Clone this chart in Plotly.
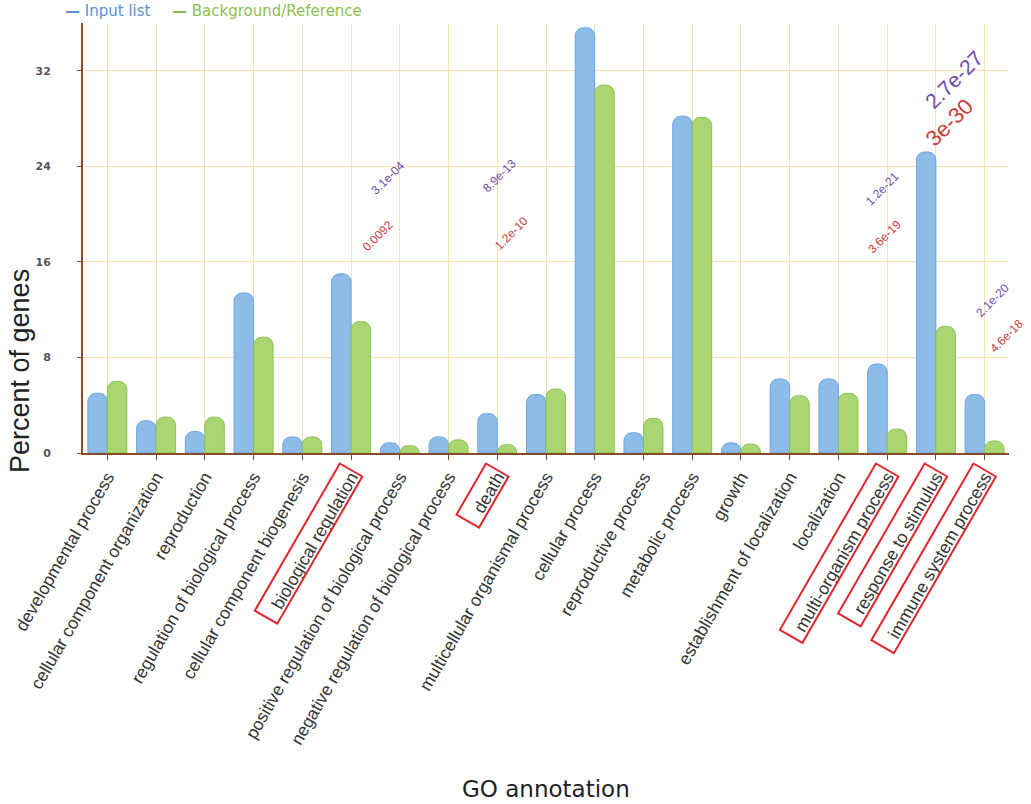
import math
import plotly.graph_objects as go

# ---------------- data ----------------
categories = [
    "developmental process", "cellular component organization", "reproduction",
    "regulation of biological process", "cellular component biogenesis",
    "biological regulation", "positive regulation of biological process",
    "negative regulation of biological process", "death",
    "multicellular organismal process", "cellular process", "reproductive process",
    "metabolic process", "growth", "establishment of localization", "localization",
    "multi-organism process", "response to stimulus", "immune system process",
]
input_list = [5.0, 2.7, 1.8, 13.4, 1.35, 15.0, 0.85, 1.35, 3.3, 4.9,
              35.6, 1.7, 28.2, 0.85, 6.2, 6.2, 7.45, 25.2, 4.9]
background = [6.0, 3.0, 3.0, 9.7, 1.35, 11.0, 0.6, 1.1, 0.7, 5.35,
              30.8, 2.9, 28.1, 0.75, 4.8, 5.0, 2.0, 10.6, 1.0]

pvalue_labels = ["3.1e-04", "0.0092", "8.9e-13", "1.2e-10", "1.2e-21",
                 "3.6e-19", "2.7e-27", "3e-30", "2.1e-20", "4.6e-18"]
pvalue_kind = ["a", "b", "a", "b", "a", "b", "a", "b", "a", "b"]
highlighted = ["biological regulation", "death", "multi-organism process",
               "response to stimulus", "immune system process"]

# ---------------- layout constants ----------------
W, H = 1031, 804
PL, PT, PR, PB = 83, 23, 1009, 453   # plot area in window pixels
L, T, R, B = PL, PT, W - PR, H - PB
PW, PH = PR - PL, PB - PT
N = len(categories)

pv_x = [5.75, 5.54, 8.04, 8.3, 15.9, 15.94, 17.37, 17.27, 18.17, 18.45]
pv_y = [23.05, 18.2, 23.2, 18.4, 22.1, 18.1, 31.3, 27.7, 12.8, 9.8]
pv_size = [12, 12, 12, 12, 12, 12, 21, 22, 12, 12]
box_len = [170, 59, 192, 173, 204]

BLUE, BLUE_LINE = "#8dbce9", "#6ea5dd"
GREEN, GREEN_LINE = "#a9d673", "#8cc152"
PURPLE, RED = "#6f4ea8", "#c8403a"
AXIS = "#8a4b2a"
GRID = "#f7e2ad"


def to_paper(px, py):
    return (px - PL) / PW, (PB - py) / PH


fig = go.Figure()
fig.add_bar(x=categories, y=input_list, name="Input list",
            marker=dict(color=BLUE, line=dict(color=BLUE_LINE, width=1), cornerradius=8))
fig.add_bar(x=categories, y=background, name="Background/Reference",
            marker=dict(color=GREEN, line=dict(color=GREEN_LINE, width=1), cornerradius=8))

annotations = []
for txt, kind, x, y, s in zip(pvalue_labels, pvalue_kind, pv_x, pv_y, pv_size):
    annotations.append(dict(x=x, y=y, xref="x", yref="y", text=txt, showarrow=False,
                            xanchor="center", yanchor="middle", textangle=-45,
                            font=dict(size=s, color=PURPLE if kind == "a" else RED,
                                      family="Liberation Sans, Arial")))

shapes = []
ux, uy = -0.5, math.sqrt(3) / 2      # along label, going down-left
nx, ny = math.sqrt(3) / 2, 0.5       # perpendicular
hw = 13
for name, ln in zip(highlighted, box_len):
    i = categories.index(name)
    tx = PL + (i + 0.5) * PW / N
    top = (tx, PB + 17)
    bot = (top[0] + ux * ln, top[1] + uy * ln)
    pts = [(top[0] - nx * hw, top[1] - ny * hw), (top[0] + nx * hw, top[1] + ny * hw),
           (bot[0] + nx * hw, bot[1] + ny * hw), (bot[0] - nx * hw, bot[1] - ny * hw)]
    pp = [to_paper(*p) for p in pts]
    path = "M " + " L ".join(f"{a:.5f},{b:.5f}" for a, b in pp) + " Z"
    shapes.append(dict(type="path", path=path, xref="paper", yref="paper",
                       line=dict(color="#e0262b", width=2), fillcolor="rgba(0,0,0,0)"))

# legend as coloured text
lx, ly = to_paper(63, 11)
annotations.append(dict(x=lx, y=ly, xref="paper", yref="paper",
                        xanchor="left", yanchor="middle", showarrow=False,
                        text="<b>\u2014</b> Input list",
                        font=dict(size=15, color="#5b8fd2", family="DejaVu Sans, Verdana")))
lx, ly = to_paper(170, 11)
annotations.append(dict(x=lx, y=ly, xref="paper", yref="paper",
                        xanchor="left", yanchor="middle", showarrow=False,
                        text="<b>\u2014</b> Background/Reference",
                        font=dict(size=15, color="#8cc152", family="DejaVu Sans, Verdana")))
# axis titles
ax_, ay_ = to_paper(20, 371)
annotations.append(dict(x=ax_, y=ay_, xref="paper", yref="paper",
                        xanchor="center", yanchor="middle",
                        text="Percent of genes", textangle=-90, showarrow=False,
                        font=dict(size=27, color="#222", family="Liberation Sans, Arial")))
ax_, ay_ = to_paper(546, 789)
annotations.append(dict(x=ax_, y=ay_, xref="paper", yref="paper",
                        xanchor="center", yanchor="middle",
                        text="GO annotation", showarrow=False,
                        font=dict(size=23, color="#222", family="DejaVu Sans, Verdana")))

fig.update_layout(
    width=W, height=H, margin=dict(l=L, r=R, t=T, b=B),
    paper_bgcolor="white", plot_bgcolor="white",
    barmode="group", bargap=0.2, bargroupgap=0.0,
    showlegend=False,
    annotations=annotations, shapes=shapes,
    xaxis=dict(type="category", range=[-0.5, N - 0.5], tickangle=-60,
               showline=True, linecolor=AXIS, linewidth=2,
               ticks="outside", ticklen=5, tickcolor=AXIS,
               showgrid=True, gridcolor=GRID, gridwidth=1,
               tickfont=dict(size=17.5, color="#333", family="Liberation Sans, Arial")),
    yaxis=dict(range=[0, 36], dtick=8, tick0=0,
               showline=True, linecolor=AXIS, linewidth=2,
               ticks="outside", ticklen=4, tickcolor=AXIS, ticklabelstandoff=24,
               showgrid=True, gridcolor=GRID, gridwidth=1, zeroline=False,
               tickfont=dict(size=11, color="#555", weight="bold", family="DejaVu Sans, Verdana")),
)

fig.write_html("out.html", config={"displayModeBar": False},
               post_script="document.body.style.margin='0';document.body.style.overflow='hidden';")
